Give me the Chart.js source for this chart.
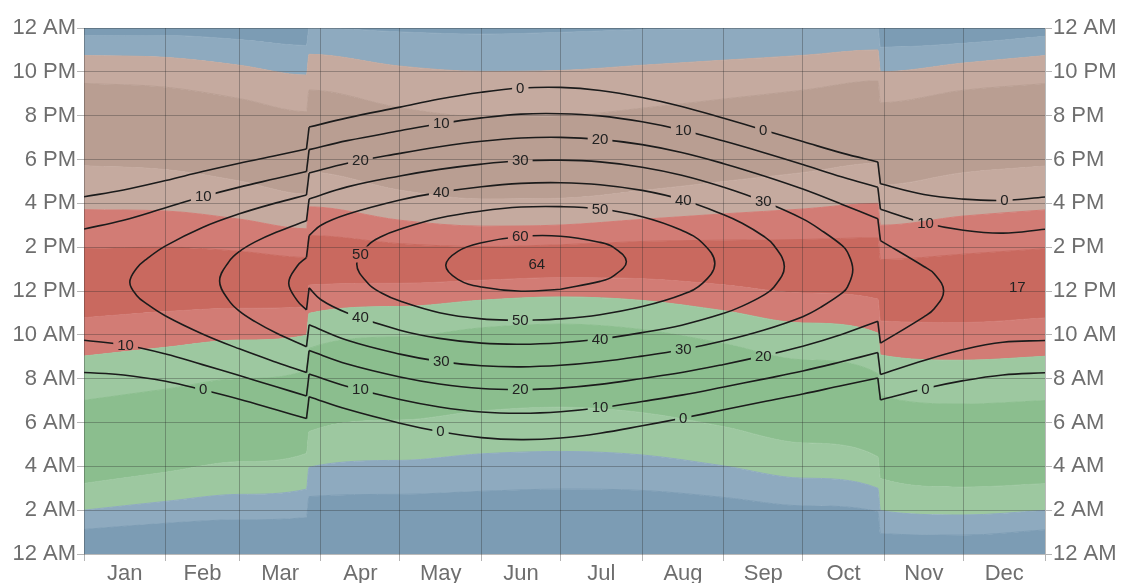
<!DOCTYPE html>
<html>
<head>
<meta charset="utf-8">
<title>Sun elevation and azimuth</title>
<script src="https://cdn.jsdelivr.net/npm/chart.js@4/dist/chart.umd.min.js"></script>
<style>
  html, body { margin: 0; padding: 0; background: #ffffff; }
  #wrap { width: 1122px; height: 583px; }
</style>
</head>
<body>
<div id="wrap"><canvas id="sun" width="1122" height="583"></canvas></div>
<script>
// ---- calendar / clock axes -------------------------------------------------
// x = day of year (0 = Jan 1, 365 = end of Dec 31), y = clock hour (0..24)
const monthStarts = [0, 31, 59, 90, 120, 151, 181, 212, 243, 273, 304, 334, 365];
const monthNames = ['Jan', 'Feb', 'Mar', 'Apr', 'May', 'Jun', 'Jul', 'Aug', 'Sep', 'Oct', 'Nov', 'Dec'];
const hourTicks = [0, 2, 4, 6, 8, 10, 12, 14, 16, 18, 20, 22, 24];
const clockChanges = [85, 302]; // daylight saving starts / ends

// ---- azimuth bands: clock hour at which the sun crosses each compass bearing
const bandDays = [0, 31, 59, 84.5, 85.5, 120, 151, 181, 212, 243, 273, 301.5, 302.5, 334, 365];
const az22  = [1.12, 1.40, 1.56, 1.66, 2.62, 2.72, 2.86, 2.96, 2.90, 2.58, 2.20, 1.93, 0.93, 0.86, 1.10];
const az45  = [2.00, 2.40, 2.72, 2.96, 3.96, 4.27, 4.57, 4.68, 4.52, 4.02, 3.46, 3.00, 1.98, 1.78, 1.99];
const az67  = [3.22, 3.73, 4.21, 4.59, 5.59, 6.11, 6.53, 6.70, 6.45, 5.81, 5.07, 4.44, 3.44, 3.05, 3.21];
const az112 = [7.01, 7.52, 8.00, 8.38, 9.38, 9.90, 10.32, 10.49, 10.24, 9.60, 8.86, 8.23, 7.23, 6.84, 7.00];
const az135 = [9.03, 9.43, 9.76, 9.98, 10.98, 11.29, 11.58, 11.73, 11.57, 11.10, 10.54, 10.08, 9.08, 8.84, 9.02];
const az157 = [10.78, 11.06, 11.21, 11.27, 12.27, 12.35, 12.49, 12.61, 12.56, 12.28, 11.91, 11.63, 10.63, 10.56, 10.77];
const az202 = [13.94, 14.00, 13.81, 13.53, 14.53, 14.16, 14.03, 14.11, 14.26, 14.32, 14.35, 14.43, 13.43, 13.68, 13.93];
const az225 = [15.71, 15.65, 15.28, 14.84, 15.84, 15.23, 14.96, 15.01, 15.27, 15.52, 15.74, 16.00, 15.00, 15.42, 15.70];
const az247 = [17.71, 17.54, 17.02, 16.42, 17.42, 16.60, 16.20, 16.23, 16.58, 17.00, 17.40, 17.83, 16.83, 17.40, 17.70];
const az292 = [21.47, 21.30, 20.78, 20.18, 21.17, 20.36, 19.96, 19.99, 20.34, 20.76, 21.16, 21.59, 20.59, 21.16, 21.46];
const az315 = [22.74, 22.66, 22.30, 21.85, 22.80, 22.26, 22.02, 22.06, 22.30, 22.53, 22.75, 23.00, 22.00, 22.40, 22.74];
const az337 = [23.65, 23.66, 23.47, 23.20, 24.00, 23.82, 23.72, 23.80, 23.92, 23.97, 24.00, 24.00, 23.12, 23.30, 23.62];

// ---- lines of constant solar elevation (degrees): morning / afternoon crossing times
const elev0Days = [0, 15, 31, 45, 59, 73, 84.5, 85.5, 100, 120, 135, 151, 166, 181, 196, 212, 227, 243, 258, 273, 288, 301.5, 302.5, 319, 334, 349, 365];
const elev0Rise = [8.28, 8.17, 7.88, 7.49, 7.06, 6.58, 6.18, 7.18, 6.60, 5.97, 5.59, 5.31, 5.22, 5.29, 5.51, 5.85, 6.19, 6.58, 6.95, 7.30, 7.69, 8.03, 7.03, 7.54, 7.91, 8.17, 8.27];
const elev0Set  = [16.30, 16.61, 17.04, 17.45, 17.83, 18.18, 18.48, 19.48, 19.90, 20.39, 20.76, 21.07, 21.26, 21.29, 21.15, 20.83, 20.42, 19.88, 19.35, 18.82, 18.29, 17.89, 16.89, 16.40, 16.19, 16.13, 16.29];

const elev10Days = [0, 15, 31, 45, 59, 73, 84.5, 85.5, 100, 120, 135, 151, 166, 181, 196, 212, 227, 243, 258, 273, 288, 301.5, 302.5, 319, 334, 349, 365];
const elev10Rise = [9.75, 9.55, 9.13, 8.64, 8.14, 7.63, 7.21, 8.21, 7.64, 7.05, 6.71, 6.48, 6.42, 6.49, 6.67, 6.96, 7.25, 7.62, 7.98, 8.35, 8.78, 9.19, 8.19, 8.83, 9.33, 9.66, 9.74];
const elev10Set  = [14.83, 15.23, 15.80, 16.30, 16.74, 17.13, 17.45, 18.45, 18.86, 19.31, 19.63, 19.90, 20.07, 20.09, 19.99, 19.72, 19.35, 18.84, 18.32, 17.77, 17.20, 16.73, 15.73, 15.11, 14.77, 14.64, 14.82];

const elev20Days = [17.4, 20, 24, 31, 45, 59, 73, 84.5, 85.5, 100, 120, 135, 151, 166, 181, 196, 212, 227, 243, 258, 273, 288, 301.5, 302.5, 319, 323, 326.5];
const elev20Rise = [12.40, 11.80, 11.40, 10.86, 10.04, 9.36, 8.75, 8.28, 9.28, 8.67, 8.08, 7.76, 7.55, 7.50, 7.57, 7.74, 8.01, 8.28, 8.65, 9.04, 9.48, 10.03, 10.62, 9.62, 10.82, 11.20, 12.00];
const elev20Set  = [12.40, 13.04, 13.48, 14.06, 14.90, 15.52, 16.02, 16.38, 17.38, 17.83, 18.28, 18.58, 18.83, 18.98, 19.01, 18.92, 18.68, 18.32, 17.81, 17.26, 16.65, 15.95, 15.30, 14.30, 13.12, 12.78, 12.00];

const elev30Days = [51.5, 55, 59, 65, 73, 84.5, 85.5, 100, 120, 135, 151, 166, 181, 196, 212, 227, 243, 258, 273, 280, 288, 290, 292];
const elev30Rise = [12.46, 11.57, 11.08, 10.60, 10.08, 9.46, 10.46, 9.75, 9.12, 8.79, 8.59, 8.54, 8.61, 8.77, 9.03, 9.32, 9.73, 10.21, 10.83, 11.27, 11.91, 12.19, 12.97];
const elev30Set  = [12.46, 13.33, 13.80, 14.24, 14.68, 15.20, 16.20, 16.75, 17.25, 17.55, 17.79, 17.94, 17.97, 17.89, 17.65, 17.28, 16.73, 16.09, 15.29, 14.77, 14.07, 13.77, 12.97];

const elev40Days = [77.75, 81, 84.5, 85.5, 90, 100, 120, 135, 151, 166, 181, 196, 212, 227, 243, 250, 258, 262, 266];
const elev40Rise = [12.36, 11.56, 11.14, 12.14, 11.60, 11.00, 10.21, 9.84, 9.62, 9.57, 9.64, 9.81, 10.10, 10.44, 10.98, 11.31, 11.80, 12.17, 13.11];
const elev40Set  = [12.36, 13.14, 13.53, 14.53, 15.00, 15.50, 16.15, 16.50, 16.76, 16.91, 16.94, 16.85, 16.59, 16.17, 15.48, 15.09, 14.51, 14.09, 13.11];

const elev50Days = [103.6, 108, 113, 120, 135, 151, 166, 181, 196, 212, 227, 235, 239.6];
const elev50Rise = [13.23, 12.33, 11.91, 11.54, 11.01, 10.73, 10.65, 10.73, 10.92, 11.29, 11.83, 12.36, 13.25];
const elev50Set  = [13.23, 14.10, 14.49, 14.82, 15.33, 15.65, 15.83, 15.85, 15.74, 15.39, 14.77, 14.18, 13.25];

const elev60Days = [137.4, 142, 151, 166, 181, 196, 201, 206];
const elev60Rise = [13.17, 12.53, 12.18, 11.99, 12.08, 12.44, 12.68, 13.34];
const elev60Set  = [13.17, 13.81, 14.20, 14.49, 14.50, 14.22, 14.00, 13.34];

// ---- inline labels on the elevation lines
const labelText = ['0', '0', '0', '0', '0', '0', '0',
                   '10', '10', '10', '10', '10', '10', '10',
                   '20', '20', '20', '20',
                   '30', '30', '30', '30',
                   '40', '40', '40', '40',
                   '50', '50', '50', '60', '64', '17'];
const labelDay  = [45.3, 135.4, 227.6, 319.6, 165.7, 258, 349.6,
                   15.8, 105, 196, 45.3, 135.7, 227.6, 319.6,
                   165.7, 258, 105, 196,
                   135.7, 227.6, 165.7, 258,
                   105, 196, 135.7, 227.6,
                   165.7, 105, 196, 165.7, 172, 354.5];
const labelHour = [7.49, 5.59, 6.18, 7.53, 21.26, 19.35, 16.13,
                   9.54, 7.49, 6.67, 16.30, 19.63, 19.34, 15.10,
                   7.50, 9.04, 17.95, 18.92,
                   8.78, 9.33, 17.94, 16.09,
                   10.80, 9.81, 16.51, 16.15,
                   10.65, 13.66, 15.74, 14.48, 13.20, 12.18];

// ---- styling -----------------------------------------------------------------
const FONT = '"Liberation Sans", Arial, Helvetica, sans-serif';
const TEXT = '#6e6e6e';
const GRID = 'rgba(40,40,40,0.32)';
const TICK = '#b4b4b4';
const LINE = '#1b1b1b';
const north = '#7c9cb4', northTint = '#8eaabf';
const east = '#8bbe8e', eastTint = '#9dc8a0';
const south = '#c9695f', southTint = '#d27c75';
const west = '#b99e92', westTint = '#c5aa9f';

const boundaries = [bandDays.map(() => 0), az22, az45, az67, az112, az135, az157,
                    az202, az225, az247, az292, az315, az337, bandDays.map(() => 24)];
const bandColors = [null, north, northTint, eastTint, east, eastTint, southTint,
                    south, southTint, westTint, west, westTint, northTint, north];

const datasets = [];

// filled bands between consecutive bearing crossings
boundaries.forEach((vals, k) => {
  datasets.push({
    data: bandDays.map((d, i) => ({ x: d, y: vals[i] })),
    fill: k === 0 ? false : '-1',
    backgroundColor: k === 0 ? 'transparent' : bandColors[k],
    borderColor: k === 0 ? 'transparent' : bandColors[k],
    borderWidth: k === 0 ? 0 : 1,
    pointRadius: 0,
    cubicInterpolationMode: 'monotone',
    order: 1
  });
});

// split a line's samples wherever the clock jumps an hour
function splitPieces(days) {
  const pieces = [];
  let cur = [];
  days.forEach((d, i) => {
    if (i > 0 && clockChanges.some(c => days[i - 1] < c && d >= c)) {
      pieces.push(cur);
      cur = [];
    }
    cur.push(i);
  });
  pieces.push(cur);
  return pieces;
}

// turn morning/afternoon crossing times into drawable paths
function elevationPaths(days, rise, set) {
  const P = i => ({ x: days[i], y: rise[i] });
  const S = i => ({ x: days[i], y: set[i] });
  const paths = [];
  const pieces = splitPieces(days);
  pieces.forEach((idx, p) => {
    const first = idx[0], last = idx[idx.length - 1];
    const openStart = rise[first] !== set[first];
    const openEnd = rise[last] !== set[last];
    if (openStart && openEnd) {
      paths.push({ pts: idx.map(P), smooth: true });
      paths.push({ pts: idx.map(S), smooth: true });
    } else if (!openStart && openEnd) {
      const pts = idx.slice().reverse().map(P).slice(0, -1).concat(idx.map(S));
      paths.push({ pts, smooth: true });
    } else if (openStart && !openEnd) {
      const pts = idx.map(P).concat(idx.slice(0, -1).reverse().map(S));
      paths.push({ pts, smooth: true });
    } else {
      const k = Math.floor(idx.length / 2);
      const pts = idx.slice(k).map(P)
        .concat(idx.slice(0, -1).reverse().map(S))
        .concat(idx.slice(1, k + 1).map(P));
      paths.push({ pts, smooth: true });
    }
    if (p > 0) {
      const prev = pieces[p - 1][pieces[p - 1].length - 1];
      paths.push({ pts: [P(prev), P(first)], smooth: false });
      paths.push({ pts: [S(prev), S(first)], smooth: false });
    }
  });
  return paths;
}

[[elev0Days, elev0Rise, elev0Set], [elev10Days, elev10Rise, elev10Set],
 [elev20Days, elev20Rise, elev20Set], [elev30Days, elev30Rise, elev30Set],
 [elev40Days, elev40Rise, elev40Set], [elev50Days, elev50Rise, elev50Set],
 [elev60Days, elev60Rise, elev60Set]].forEach(([d, r, s]) => {
  elevationPaths(d, r, s).forEach(path => {
    datasets.push({
      data: path.pts,
      fill: false,
      borderColor: LINE,
      borderWidth: 1.6,
      pointRadius: 0,
      tension: path.smooth ? 0.4 : 0,
      order: 0,
      isElevation: true
    });
  });
});

// ---- helpers for axes ----------------------------------------------------------
const monthMids = monthNames.map((_, i) => (monthStarts[i] + monthStarts[i + 1]) / 2);
const xTickValues = monthStarts.concat(monthMids).sort((a, b) => a - b);
const isMonthStart = v => monthStarts.includes(v);
function clockLabel(h) {
  const hh = h % 24;
  const suffix = hh < 12 ? 'AM' : 'PM';
  let n = hh % 12;
  if (n === 0) n = 12;
  return n + ' ' + suffix;
}

// ---- inline label plugin: cut gaps in the lines and write the values -----------
const LABEL_FONT = '15px ' + FONT;
function labelBoxes(chart) {
  const ctx = chart.ctx;
  ctx.save();
  ctx.font = LABEL_FONT;
  const out = labelText.map((t, i) => ({
    t,
    x: chart.scales.x.getPixelForValue(labelDay[i]),
    y: chart.scales.y.getPixelForValue(labelHour[i]),
    w: ctx.measureText(t).width
  }));
  ctx.restore();
  return out;
}
const lineLabels = {
  id: 'lineLabels',
  beforeDatasetDraw(chart, args) {
    if (!chart.data.datasets[args.index].isElevation) return;
    const ctx = chart.ctx;
    ctx.save();
    ctx.beginPath();
    ctx.rect(0, 0, chart.width, chart.height);
    labelBoxes(chart).forEach(b => ctx.rect(b.x - b.w / 2 - 4, b.y - 8, b.w + 8, 16));
    ctx.clip('evenodd');
  },
  afterDatasetDraw(chart, args) {
    if (!chart.data.datasets[args.index].isElevation) return;
    chart.ctx.restore();
  },
  afterDatasetsDraw(chart) {
    const ctx = chart.ctx;
    ctx.save();
    ctx.font = LABEL_FONT;
    ctx.fillStyle = '#222222';
    ctx.textAlign = 'center';
    ctx.textBaseline = 'middle';
    labelBoxes(chart).forEach(b => ctx.fillText(b.t, b.x, b.y + 0.5));
    ctx.restore();
  }
};

const hourAxis = (position) => ({
  type: 'linear',
  position,
  min: 0,
  max: 24,
  afterBuildTicks: s => { s.ticks = hourTicks.map(v => ({ value: v })); },
  afterFit: s => { s.width = position === 'left' ? 84 : 77; },
  border: { display: false },
  grid: {
    z: 1,
    drawOnChartArea: position === 'left',
    color: GRID,
    tickColor: TICK,
    tickLength: 7,
    lineWidth: 1
  },
  ticks: {
    padding: 1,
    color: TEXT,
    font: { family: FONT, size: 22 },
    callback: v => clockLabel(v)
  }
});

new Chart(document.getElementById('sun'), {
  type: 'line',
  data: { datasets },
  options: {
    responsive: false,
    devicePixelRatio: 1,
    animation: false,
    layout: { padding: { top: 28, left: 0, right: 0, bottom: 0 } },
    plugins: {
      legend: { display: false },
      tooltip: { enabled: false }
    },
    events: [],
    scales: {
      x: {
        type: 'linear',
        position: 'bottom',
        min: 0,
        max: 365,
        afterBuildTicks: s => { s.ticks = xTickValues.map(v => ({ value: v })); },
        afterFit: s => { s.height = 29; },
        border: { display: false },
        grid: {
          z: 1,
          color: c => (c.tick && isMonthStart(c.tick.value)) ? GRID : 'transparent',
          tickColor: c => (c.tick && isMonthStart(c.tick.value)) ? TICK : 'transparent',
          tickLength: 7,
          lineWidth: 1
        },
        ticks: {
          autoSkip: false,
          maxRotation: 0,
          padding: 0,
          color: TEXT,
          font: { family: FONT, size: 22 },
          callback: v => {
            const i = monthMids.indexOf(v);
            return i >= 0 ? monthNames[i] : '';
          }
        }
      },
      y: hourAxis('left'),
      y2: hourAxis('right')
    }
  },
  plugins: [lineLabels]
});
</script>
</body>
</html>
